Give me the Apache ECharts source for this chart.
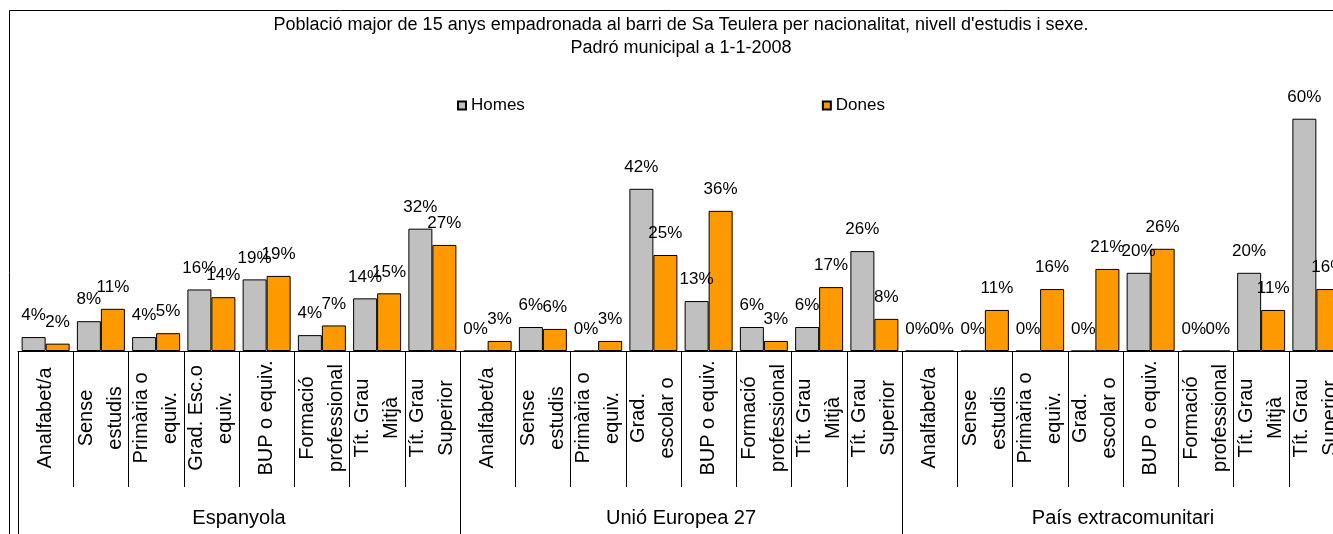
<!DOCTYPE html>
<html>
<head>
<meta charset="utf-8">
<script src="https://cdn.jsdelivr.net/npm/echarts@6/dist/echarts.min.js"></script>
<style>
  html, body { margin: 0; padding: 0; background: #fff; }
  #main { width: 1333px; height: 534px; }
</style>
</head>
<body>
<div id="main"></div>
<script>
// grups de nacionalitat i nivells d'estudis
var groups = ['Espanyola', 'Unió Europea 27', 'País extracomunitari'];
var levelsEsp = ['Analfabet/a', 'Sense\nestudis', 'Primària o\nequiv.', 'Grad. Esc.o\nequiv.', 'BUP o equiv.', 'Formació\nprofessional', 'Tít. Grau\nMitjà', 'Tít. Grau\nSuperior'];
var levelsAltres = ['Analfabet/a', 'Sense\nestudis', 'Primària o\nequiv.', 'Grad.\nescolar o', 'BUP o equiv.', 'Formació\nprofessional', 'Tít. Grau\nMitjà', 'Tít. Grau\nSuperior'];

// percentatges (%)
var homesEsp = [3.6, 7.7, 3.6, 15.9, 18.5, 4.1, 13.6, 31.6];
var donesEsp = [1.9, 10.9, 4.6, 13.9, 19.4, 6.6, 14.9, 27.4];
var homesUE = [0, 6.2, 0, 41.9, 12.9, 6.2, 6.2, 25.8];
var donesUE = [2.6, 5.7, 2.6, 24.8, 36.2, 2.6, 16.5, 8.3];
var homesExt = [0, 0, 0, 0, 20.2, 0, 20.2, 60];
var donesExt = [0, 10.6, 16, 21.2, 26.4, 0, 10.6, 16];

var titleLine1 = 'Població major de 15 anys empadronada al barri de Sa Teulera per nacionalitat, nivell d\'estudis i sexe.';
var titleLine2 = 'Padró municipal a 1-1-2008';

var categories = levelsEsp.concat(levelsAltres, levelsAltres);
var homes = homesEsp.concat(homesUE, homesExt);
var dones = donesEsp.concat(donesUE, donesExt);

var font = 'Liberation Sans, Arial, sans-serif';

var chartDom = document.getElementById('main');
var myChart = echarts.init(chartDom);
var option;

var labelCfg = {
    show: true,
    position: 'top',
    distance: 13,
    fontSize: 17,
    fontFamily: font,
    color: '#000',
    formatter: function (p) {
        return Math.round(p.value) + '%';
    }
};

option = {
    animation: false,
    textStyle: { fontFamily: font },
    graphic: [
        {
            type: 'rect',
            silent: true,
            shape: { x: 9.5, y: 10.5, width: 1400, height: 600 },
            style: { fill: 'none', stroke: '#000', lineWidth: 1 }
        },
        {
            type: 'text',
            x: 681,
            y: 25,
            style: {
                text: titleLine1,
                font: '18px ' + font,
                fill: '#000',
                align: 'center',
                verticalAlign: 'middle'
            }
        },
        {
            type: 'text',
            x: 681,
            y: 48,
            style: {
                text: titleLine2,
                font: '18px ' + font,
                fill: '#000',
                align: 'center',
                verticalAlign: 'middle'
            }
        }
    ],
    legend: {
        left: 452,
        top: 92,
        itemWidth: 8,
        itemHeight: 8,
        itemGap: 297,
        icon: 'rect',
        textStyle: { fontSize: 17, fontFamily: font, color: '#000' },
        data: ['Homes', 'Dones']
    },
    grid: {
        left: 18,
        top: 80,
        width: 1326,
        height: 271,
        outerBoundsMode: 'none',
        containLabel: false
    },
    xAxis: [
        {
            type: 'category',
            position: 'bottom',
            data: categories,
            axisLine: { show: true, lineStyle: { color: '#000', width: 1 } },
            axisTick: { show: true, interval: 0, length: 136, lineStyle: { color: '#000', width: 1 } },
            axisLabel: {
                interval: 0,
                rotate: 90,
                align: 'center',
                margin: 67,
                fontSize: 20,
                lineHeight: 29,
                color: '#000',
                fontFamily: font
            }
        },
        {
            type: 'category',
            position: 'bottom',
            data: groups,
            axisLine: { show: false },
            axisTick: { show: true, interval: 0, length: 200, lineStyle: { color: '#000', width: 1 } },
            axisLabel: {
                interval: 0,
                margin: 157,
                fontSize: 20,
                color: '#000',
                fontFamily: font
            }
        }
    ],
    yAxis: {
        type: 'value',
        show: false,
        min: 0,
        max: 70
    },
    series: [
        {
            name: 'Homes',
            type: 'bar',
            data: homes,
            barWidth: 24,
            barGap: '0%',
            itemStyle: { color: '#C0C0C0', borderColor: '#000', borderWidth: 1 },
            label: labelCfg
        },
        {
            name: 'Dones',
            type: 'bar',
            data: dones,
            barWidth: 24,
            barGap: '0%',
            itemStyle: { color: '#FF9900', borderColor: '#000', borderWidth: 1 },
            label: labelCfg
        }
    ]
};

myChart.setOption(option);
</script>
</body>
</html>
